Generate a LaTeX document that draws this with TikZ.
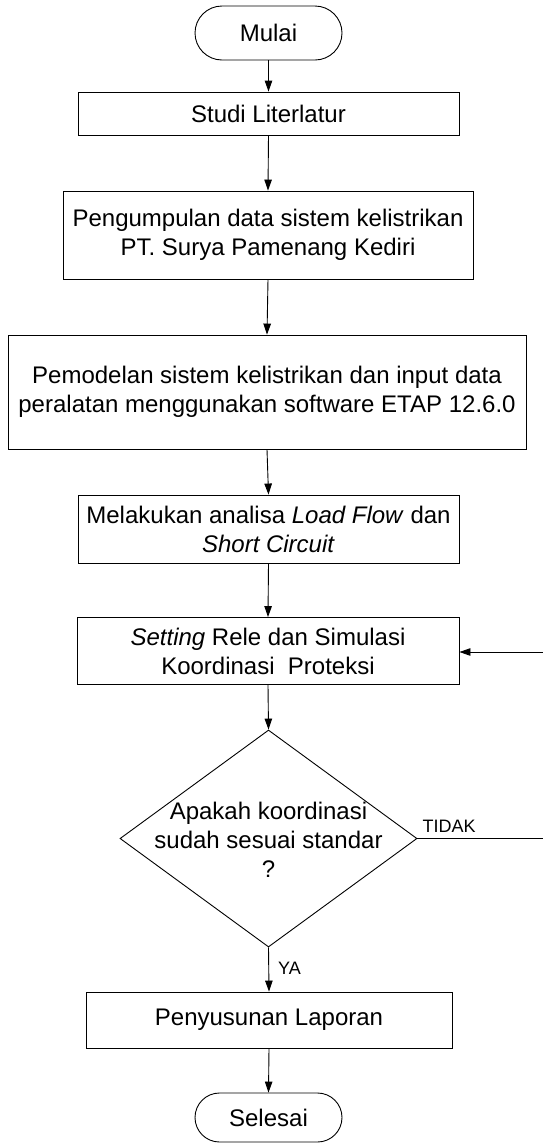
\documentclass[tikz,border=0pt]{standalone}
\usepackage{fontspec}
\setmainfont{Liberation Sans}
\usetikzlibrary{arrows.meta,shapes.geometric,calc}
\begin{document}
\begin{tikzpicture}[x=1pt,y=-1pt,
  every node/.style={font=\fontsize{24}{29}\selectfont, inner sep=0pt, align=center},
  box/.style={draw, line width=0.9pt, rectangle},
  term/.style={draw, line width=0.9pt, rectangle, rounded corners=#1},
  dec/.style={draw, line width=0.9pt, diamond, inner sep=0pt},
  lbl/.style={font=\fontsize{18}{21}\selectfont},
  conn/.style={line width=0.9pt, -{Triangle[length=11pt,width=7.5pt]}},
  plain/.style={line width=0.9pt}]
\useasboundingbox (0,0) rectangle (542,1144);

\node[term=27pt, minimum width=147pt, minimum height=54pt] (mulai) at (268.5,33) {Mulai};
\node[box, minimum width=381pt, minimum height=43pt] (studi) at (268.5,113.5) {Studi Literlatur};
\node[box, minimum width=410pt, minimum height=88pt] (peng) at (268,235) {Pengumpulan data sistem kelistrikan\\PT. Surya Pamenang Kediri};
\node[box, minimum width=518pt, minimum height=114pt] (pemo) at (267,392) {Pemodelan sistem kelistrikan dan input data\\peralatan menggunakan software ETAP 12.6.0};
\node[box, minimum width=381pt, minimum height=68pt] (mel) at (268.5,529) {Melakukan analisa \textit{Load Flow} dan\\\textit{Short Circuit}};
\node[box, minimum width=382pt, minimum height=67pt] (set) at (268,651) {\textit{Setting} Rele dan Simulasi\\Koordinasi~~Proteksi};
\node[dec, minimum width=297pt, minimum height=217pt] (dec) at (268.5,838.5) {};
\node (dectext) at (268.5,840) {Apakah koordinasi\\sudah sesuai standar\\?};
\node[box, minimum width=366pt, minimum height=56pt] (lap) at (269,1020) {Penyusunan Laporan};
\node[term=24.5pt, minimum width=147pt, minimum height=49pt] (sel) at (268.5,1117.5) {Selesai};

\coordinate (c1) at (544,838.5);
\coordinate (c2) at (544,652);

\draw[conn] (mulai.south) -- (studi.north);
\draw[conn] (studi.south) -- (peng.north);
\draw[conn] (peng.south) -- (pemo.north);
\draw[conn] (pemo.south) -- (mel.north);
\draw[conn] (mel.south) -- (set.north);
\draw[conn] (set.south) -- (dec.north);
\draw[conn] (dec.south) -- (lap.north);
\draw[conn] (lap.south) -- (sel.north);
\draw[conn] (dec.east) -- (c1) -- (c2) -- (c2 -| set.east);

\node[lbl, anchor=base west] (tidak) at ([xshift=5pt,yshift=6.5pt]dec.east) {TIDAK};
\node[lbl, anchor=base west] (ya) at ([xshift=9.5pt,yshift=-27pt]dec.south) {YA};
\end{tikzpicture}
\end{document}
